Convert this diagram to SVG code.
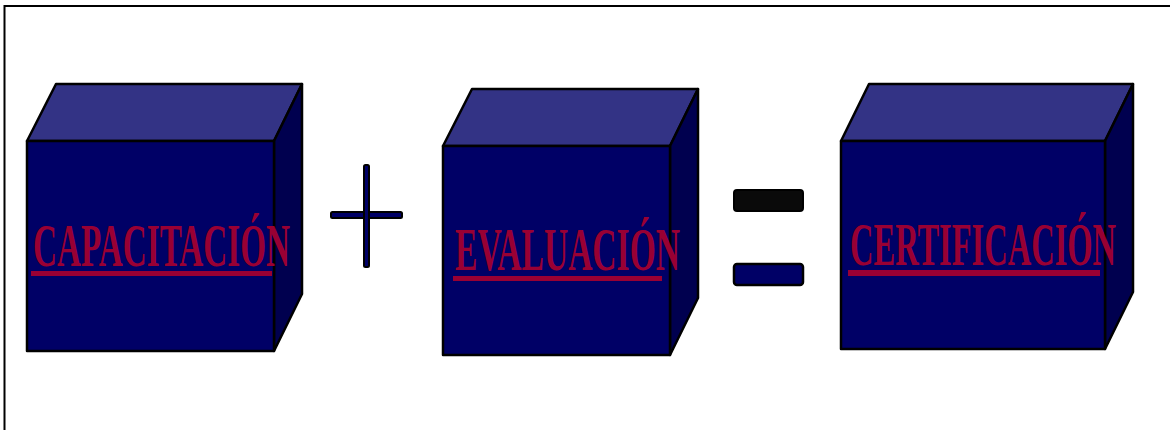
<svg xmlns="http://www.w3.org/2000/svg" width="1170" height="430" viewBox="0 0 1170 430">
<style>
.f{fill:#000066;stroke:#000;stroke-width:2.5;stroke-linejoin:round}
.t{fill:#333385;stroke:#000;stroke-width:2.5;stroke-linejoin:round}
.s{fill:#00004f;stroke:#000;stroke-width:2.5;stroke-linejoin:round}
.lbl{font-family:"Liberation Serif","Times New Roman",serif;font-size:62px;font-weight:bold;fill:#990033}
.ul{fill:#990033}
</style>
<rect x="0" y="0" width="1170" height="430" fill="#fff"/>
<rect x="4.5" y="6" width="1200" height="500" fill="none" stroke="#000" stroke-width="2"/>
<g id="capacitacion">
<polygon class="t" points="27,141 56,84 302,84 274,141"/>
<polygon class="s" points="274,141 302,84 302,294 274,351"/>
<rect class="f" x="27" y="141" width="247" height="210"/>
<text class="lbl" x="33" y="266" textLength="257" lengthAdjust="spacingAndGlyphs">CAPACITACIÓN</text>
<rect class="ul" x="31" y="271" width="241" height="5"/>
</g>
<g id="evaluacion">
<polygon class="t" points="443,146 472,89 698,89 670,146"/>
<polygon class="s" points="670,146 698,89 698,298 670,355"/>
<rect class="f" x="443" y="146" width="227" height="209"/>
<text class="lbl" x="455" y="270" textLength="225" lengthAdjust="spacingAndGlyphs">EVALUACIÓN</text>
<rect class="ul" x="453" y="276" width="209" height="5"/>
</g>
<g id="certificacion">
<polygon class="t" points="841,141 869,84 1133,84 1105,141"/>
<polygon class="s" points="1105,141 1133,84 1133,292 1105,349"/>
<rect class="f" x="841" y="141" width="264" height="208"/>
<text class="lbl" x="850" y="265" textLength="266" lengthAdjust="spacingAndGlyphs">CERTIFICACIÓN</text>
<rect class="ul" x="848" y="270" width="252" height="6"/>
</g>
<g id="connectors">
<g id="plus">
<rect x="331" y="212" width="71" height="6" rx="1.5" fill="#000066" stroke="#000" stroke-width="2"/>
<rect x="364" y="165" width="5" height="102" rx="1.5" fill="#000066" stroke="#000" stroke-width="2"/>
<rect x="365.2" y="213.2" width="2.6" height="3.6" fill="#000066"/>
</g>
<g id="equals">
<rect x="734" y="190" width="69" height="21" rx="3" fill="#0a0a0a" stroke="#000" stroke-width="2"/>
<rect x="734" y="264" width="69" height="21" rx="3" fill="#000066" stroke="#000" stroke-width="2.5"/>
</g>
</g>
</svg>
